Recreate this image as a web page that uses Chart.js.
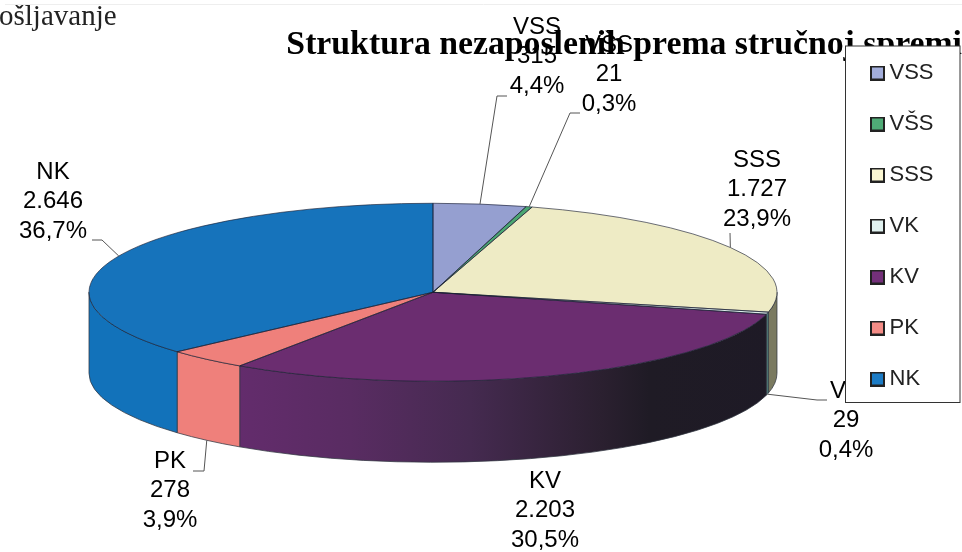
<!DOCTYPE html>
<html>
<head>
<meta charset="utf-8">
<title>Struktura nezaposlenih</title>
<script src="https://cdn.jsdelivr.net/npm/chart.js@4/dist/chart.umd.min.js"></script>
<style>
    html, body { margin: 0; padding: 0; background: #fff; }
    #wrap { position: relative; width: 962px; height: 552px; }
</style>
</head>
<body>
<div id="wrap"><canvas id="pie" width="962" height="552"></canvas></div>
<script>
// Data
const categories = ['VSS', 'VŠS', 'SSS', 'VK', 'KV', 'PK', 'NK'];
const values = [315, 21, 1727, 29, 2203, 278, 2646];
const valueLabels = ['315', '21', '1.727', '29', '2.203', '278', '2.646'];
const percentLabels = ['4,4%', '0,3%', '23,9%', '0,4%', '30,5%', '3,9%', '36,7%'];
const titleText = 'Struktura nezaposlenih prema stručnoj spremi';
const pageText = 'ošljavanje';

// Colours
const topColors = ['#959fd0', '#4aa672', '#eeebc5', '#dcecea', '#6b2d70', '#ef807b', '#1673bb'];
const swatchColors = ['#a3aedb', '#4fab76', '#fbf7d2', '#e0f1ef', '#74307a', '#f48c86', '#1c7cc6'];
const wallStops = [
    [[0, '#6f78a0']],
    [[0, '#357a52']],
    [[0, '#7a7a60']],
    [[0, '#4f7c78']],
    [[0.22, '#632c6c'], [0.38, '#592c62'], [0.554, '#452a50'], [0.743, '#2b2030'], [0.815, '#1f1b25'], [1, '#1e1a26']],
    [[0, '#ef807b']],
    [[0, '#1272ba']]
];

// Pie shape: flattened disc
const radiusX = 344;
const radiusY = 89;
const depth = 81;

// Label centres (x, y of first line) and leader bends, one per category
const labelPos = [[537, 27], [609, 45], [757, 160], [846, 391], [545, 481], [170, 461], [53, 172]];
const labelStep = 29.8;
const leaders = [
    [[497, 96], [507, 96]],
    [[570, 113], [580, 113]],
    [[730, 233]],
    [[817, 400], [827, 400]],
    null,
    [[204, 471], [193, 471]],
    [[102, 240], [92, 240]]
];

const legendBox = { left: 845.5, top: 46, right: 960, bottom: 402.5 };

function makeSwatch(color) {
    const c = document.createElement('canvas');
    c.width = 15;
    c.height = 15;
    const g = c.getContext('2d');
    g.fillStyle = color;
    g.strokeStyle = '#222';
    g.lineWidth = 2;
    g.fillRect(1, 1, 13, 13);
    g.strokeRect(1, 1, 13, 13);
    return c;
}

// 3D look: squash the arcs the library draws and add the side wall under them
const disc3d = {
    id: 'disc3d',
    afterLayout(chart) {
        const lg = chart.legend;
        lg.left = 847.5;
        lg.right = 962;
        lg.top = 33;
        lg.bottom = 552;
    },
    beforeDatasetsDraw(chart) {
        const ctx = chart.ctx;
        const arcs = chart.getDatasetMeta(0).data;
        const cx = arcs[0].x;
        const cy = arcs[0].y;

        arcs.forEach(function(arc, i) {
            const a0 = Math.max(arc.startAngle, 0);
            const a1 = Math.min(arc.endAngle, Math.PI);
            if (a1 <= a0) return;
            const grad = ctx.createLinearGradient(cx - radiusX, 0, cx + radiusX, 0);
            wallStops[i].forEach(s => grad.addColorStop(s[0], s[1]));
            ctx.beginPath();
            ctx.ellipse(cx, cy, radiusX, radiusY, 0, a0, a1);
            ctx.ellipse(cx, cy + depth, radiusX, radiusY, 0, a1, a0, true);
            ctx.closePath();
            ctx.fillStyle = grad;
            ctx.fill();
            ctx.strokeStyle = 'rgba(50,55,65,0.75)';
            ctx.lineWidth = 1;
            ctx.stroke();
        });

        ctx.save();
        ctx.translate(0, cy);
        ctx.scale(1, radiusY / radiusX);
        ctx.translate(0, -cy);
    },
    afterDatasetsDraw(chart) {
        const ctx = chart.ctx;
        ctx.restore();
        const arcs = chart.getDatasetMeta(0).data;
        const cx = arcs[0].x;
        const cy = arcs[0].y;

        // slice outlines on the top face
        arcs.forEach(function(arc) {
            ctx.beginPath();
            ctx.moveTo(cx, cy);
            ctx.ellipse(cx, cy, radiusX, radiusY, 0, arc.startAngle, arc.endAngle);
            ctx.closePath();
            ctx.strokeStyle = 'rgba(25,30,50,0.8)';
            ctx.lineWidth = 0.8;
            ctx.stroke();
        });

        // leader lines
        ctx.strokeStyle = '#555';
        ctx.lineWidth = 1;
        arcs.forEach(function(arc, i) {
            if (!leaders[i]) return;
            const mid = (arc.startAngle + arc.endAngle) / 2;
            const sy = cy + radiusY * Math.sin(mid) + (Math.sin(mid) > 0 ? depth : 0);
            ctx.beginPath();
            ctx.moveTo(cx + radiusX * Math.cos(mid), sy);
            leaders[i].forEach(p => ctx.lineTo(p[0], p[1]));
            ctx.stroke();
        });

        // data labels
        ctx.fillStyle = '#000';
        ctx.font = '24px "Liberation Sans"';
        ctx.textAlign = 'center';
        ctx.textBaseline = 'middle';
        categories.forEach(function(name, i) {
            const p = labelPos[i];
            ctx.fillText(name, p[0], p[1]);
            ctx.fillText(valueLabels[i], p[0], p[1] + labelStep);
            ctx.fillText(percentLabels[i], p[0], p[1] + labelStep * 2);
        });

        // text left over from the page above
        ctx.fillStyle = '#222';
        ctx.font = '29px "Liberation Serif"';
        ctx.textAlign = 'left';
        ctx.textBaseline = 'alphabetic';
        ctx.fillText(pageText, -1, 25);
        ctx.strokeStyle = '#eee';
        ctx.beginPath();
        ctx.moveTo(5, 4.5);
        ctx.lineTo(962, 4.5);
        ctx.stroke();
    },
    afterDraw(chart) {
        // the legend frame sits on top of title and labels
        const ctx = chart.ctx;
        const b = legendBox;
        ctx.fillStyle = '#fff';
        ctx.fillRect(b.left, b.top, b.right - b.left, b.bottom - b.top);
        ctx.strokeStyle = '#333';
        ctx.lineWidth = 1;
        ctx.strokeRect(b.left, b.top, b.right - b.left, b.bottom - b.top);
        chart.legend.draw();
    }
};

new Chart(document.getElementById('pie'), {
    type: 'pie',
    data: {
        labels: categories,
        datasets: [{
            data: values,
            backgroundColor: topColors,
            borderWidth: 0,
            radius: radiusX,
            clip: false
        }]
    },
    plugins: [disc3d],
    options: {
        responsive: false,
        animation: false,
        layout: { padding: { left: 0, right: 0, top: 0, bottom: 33 } },
        plugins: {
            tooltip: { enabled: false },
            title: {
                display: true,
                text: titleText,
                align: 'end',
                color: '#000',
                font: { family: '"Liberation Serif"', size: 33.75, weight: 'bold' },
                padding: { top: 25, bottom: 0 }
            },
            legend: {
                position: 'right',
                align: 'start',
                maxWidth: 114,
                labels: {
                    color: '#222',
                    font: { family: '"Liberation Sans"', size: 22 },
                    padding: 29,
                    usePointStyle: true,
                    pointStyleWidth: 2,
                    generateLabels: function(chart) {
                        return categories.map((name, i) => ({
                            text: name,
                            index: i,
                            hidden: false,
                            fontColor: '#222',
                            pointStyle: makeSwatch(swatchColors[i])
                        }));
                    }
                }
            }
        }
    }
});
</script>
</body>
</html>
